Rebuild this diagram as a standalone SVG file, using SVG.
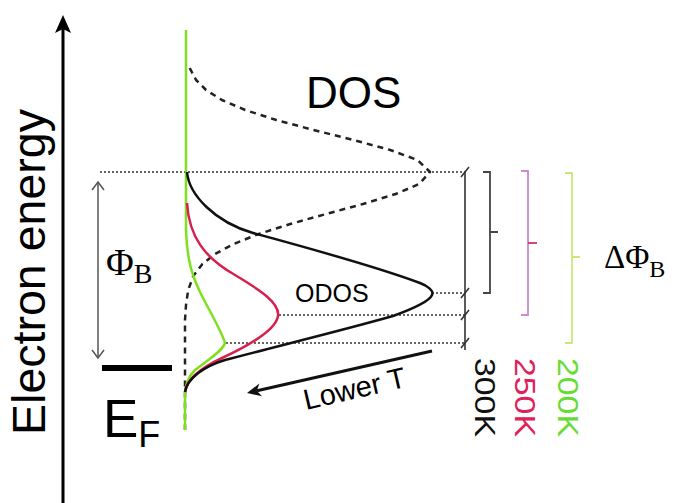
<svg xmlns="http://www.w3.org/2000/svg" width="679" height="503" viewBox="0 0 679 503">
<style>
.sans{font-family:"Liberation Sans",Arial,sans-serif}
.serif{font-family:"Liberation Serif","Times New Roman",serif}
.dot{stroke:#333;stroke-width:1.4;stroke-dasharray:2 2;fill:none}
.brk{fill:none;stroke-width:1.8}
</style>
<rect width="679" height="503" fill="#fff"/>
<g id="axis">
<line x1="63" y1="27" x2="63" y2="503" stroke="#000" stroke-width="3"/>
<path d="M63,15 L71,33 L63,29 L55,33 Z" fill="#000"/>
<text class="sans" font-size="46" transform="translate(45,435) rotate(-90)" textLength="326" lengthAdjust="spacingAndGlyphs">Electron energy</text>
</g>
<g id="guides">
<line class="dot" x1="100" y1="172" x2="465" y2="172"/>
<line class="dot" x1="432" y1="293" x2="465" y2="293"/>
<line class="dot" x1="279" y1="315" x2="465" y2="315"/>
<line class="dot" x1="226" y1="343" x2="465" y2="343"/>
</g>
<g id="phiB">
<line x1="98" y1="183" x2="98" y2="357" stroke="#555" stroke-width="1.5"/>
<path d="M92,190 L98,182 L104,190 M92,350 L98,358 L104,350" fill="none" stroke="#555" stroke-width="1.5"/>
<text class="serif" font-size="38" x="106" y="275">Φ<tspan font-size="28" dy="8">B</tspan></text>
</g>
<g id="EF">
<line x1="102" y1="368" x2="172" y2="368" stroke="#000" stroke-width="6"/>
<text class="sans" font-size="53" x="103" y="437">E<tspan font-size="36" dy="10">F</tspan></text>
</g>
<g id="curves">
<path d="M189.7,68 L196.1,80 L206,90 L221.9,100 L245.2,110 L276.3,120 L313.6,130 L353.6,140 L390.3,150 L417.5,160 L430,172 L419.2,184 L395.7,194 L362.9,204 L326.2,214 L290.2,224 L258.7,234 L233.5,244 L215,254 L202.4,264 L193.3,276 L188.2,290 L186,305 L185,320 L185,430" fill="none" stroke="#222" stroke-width="2.5" stroke-dasharray="6 5" stroke-linejoin="round"/>
<path d="M186,30 L186,230 C187,260 192,275 200,292 C210,312 222,332 225,343 C222,352 205,362 195,370 C188,377 185,385 185,395 L185,430" fill="none" stroke="#7fe020" stroke-width="2.5"/>
<path d="M187,203 C189,237 205,258 235,275 C260,290 280,303 278,316 C276,330 250,345 222,358 C205,366 187,378 185,392" fill="none" stroke="#d8204f" stroke-width="2.5"/>
<path d="M187,172 C189,195 215,222 253,233 C290,243 380,268 420,283 C428,286 434,291 432,295 C430,300 415,308 393,316 C340,331 270,348 225,360 C205,366 187,378 185,392" fill="none" stroke="#111" stroke-width="2.5"/>
</g>
<g id="labels">
<text class="sans" font-size="44" x="306" y="108">DOS</text>
<text class="sans" font-size="25" x="295" y="302">ODOS</text>
<line x1="432" y1="351" x2="257" y2="390.8" stroke="#111" stroke-width="3"/>
<path d="M247,393 L259.4,383.5 L256.8,390.8 L262,396.2 Z" fill="#111"/>
<text class="sans" font-size="29" transform="translate(306,410) rotate(-13)">Lower T</text>
</g>
<g id="brackets">
<line x1="465" y1="172" x2="465" y2="350" stroke="#333" stroke-width="1.6"/>
<path d="M461,177 L469,167 M461,298 L469,288 M461,320 L469,310 M461,348 L469,338" stroke="#333" stroke-width="1.6" fill="none"/>
<path class="brk" stroke="#444" d="M483,172 L490,172 L490,293 L483,293 M490,232 L498,232"/>
<path class="brk" stroke="#c98ad0" d="M521,171 L528,171 L528,315 L521,315"/>
<line x1="528" y1="243" x2="537" y2="243" stroke="#d0306a" stroke-width="1.8"/>
<path class="brk" stroke="#c6ea7a" d="M565,173 L572,173 L572,343 L565,343 M572,257 L580,257"/>
<text class="serif" font-size="33" x="604" y="268">ΔΦ<tspan font-size="24" dy="9">B</tspan></text>
<text class="sans" font-size="30" fill="#111" transform="translate(475,358) rotate(90)" textLength="79" lengthAdjust="spacingAndGlyphs">300K</text>
<text class="sans" font-size="30" fill="#e0205a" transform="translate(515,358) rotate(90)" textLength="79" lengthAdjust="spacingAndGlyphs">250K</text>
<text class="sans" font-size="30" fill="#66dd33" transform="translate(558,358) rotate(90)" textLength="79" lengthAdjust="spacingAndGlyphs">200K</text>
</g>
</svg>
